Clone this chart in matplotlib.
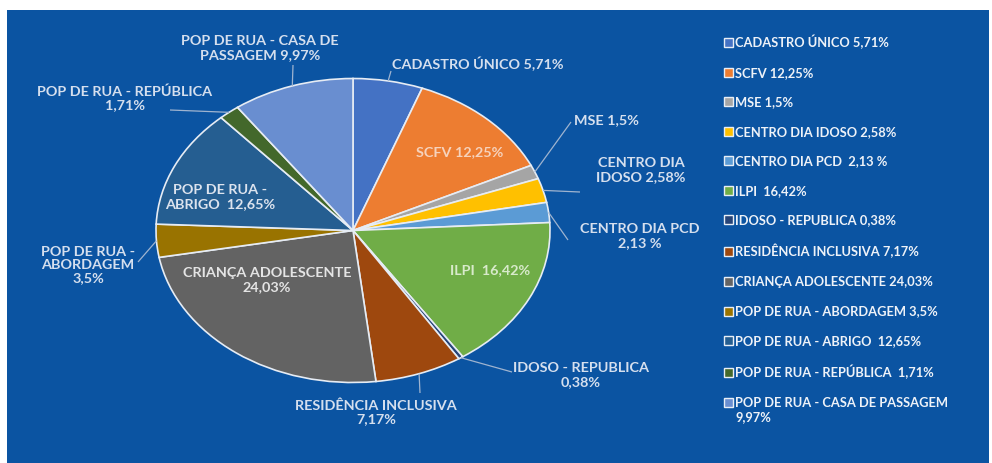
import matplotlib.pyplot as plt
import matplotlib.patches as patches
import numpy as np

# === Dati ===
categorie = ["CADASTRO ÚNICO", "SCFV", "MSE", "CENTRO DIA IDOSO", "CENTRO DIA PCD",
             "ILPI", "IDOSO - REPUBLICA", "RESIDÊNCIA INCLUSIVA", "CRIANÇA ADOLESCENTE",
             "POP DE RUA - ABORDAGEM", "POP DE RUA - ABRIGO", "POP DE RUA - REPÚBLICA",
             "POP DE RUA - CASA DE PASSAGEM"]
valori = [5.71, 12.25, 1.5, 2.58, 2.13, 16.42, 0.38, 7.17, 24.03, 3.5, 12.65, 1.71, 9.97]
etichette_torta = ["CADASTRO ÚNICO 5,71%", "SCFV 12,25%", "MSE 1,5%", "CENTRO DIA\nIDOSO 2,58%",
                   "CENTRO DIA PCD\n2,13 %", "ILPI  16,42%", "IDOSO - REPUBLICA\n0,38%",
                   "RESIDÊNCIA INCLUSIVA\n7,17%", "CRIANÇA ADOLESCENTE\n24,03%",
                   "POP DE RUA -\nABORDAGEM\n3,5%", "POP DE RUA -\nABRIGO  12,65%",
                   "POP DE RUA - REPÚBLICA\n1,71%", "POP DE RUA - CASA DE\nPASSAGEM 9,97%"]
etichette_legenda = ["CADASTRO ÚNICO 5,71%", "SCFV 12,25%", "MSE 1,5%", "CENTRO DIA IDOSO 2,58%",
                     "CENTRO DIA PCD  2,13 %", "ILPI  16,42%", "IDOSO - REPUBLICA 0,38%",
                     "RESIDÊNCIA INCLUSIVA 7,17%", "CRIANÇA ADOLESCENTE 24,03%",
                     "POP DE RUA - ABORDAGEM 3,5%", "POP DE RUA - ABRIGO  12,65%",
                     "POP DE RUA - REPÚBLICA  1,71%", "POP DE RUA - CASA DE PASSAGEM"]
legenda_coda = "9,97%"  # seconda riga dell'ultima voce
colori = ['#4472C4', '#ED7D31', '#A5A5A5', '#FFC000', '#5B9BD5', '#70AD47', '#264478',
          '#9E480E', '#636363', '#997300', '#255E91', '#43682B', '#698ED0']

# === Layout (pixel) ===
W, H = 992, 463
cx, cy, rx, ry = 353, 230.5, 197, 152
sfondo = '#0B54A2'
col_testo = '#D5DFEE'


def px2d(px, py):
    return (px - cx) / rx, (cy - py) / ry


# posizione testo (pixel), punto finale linea guida (pixel) o None, colore testo, allineamento
layout = [
    ((392, 64), (391, 71), col_testo, 'left'),
    ((460, 152), None, '#F6D2BC', 'center'),
    ((574, 120), (571, 122), col_testo, 'left'),
    ((641, 170), (580, 192), col_testo, 'center'),
    ((640, 236), (568, 240), col_testo, 'center'),
    ((490, 270), None, '#D8EACB', 'center'),
    ((581, 375), (512, 372), col_testo, 'center'),
    ((376, 412), (420, 393), col_testo, 'center'),
    ((267, 280), None, '#E4E4E4', 'center'),
    ((88, 265), (138, 262), col_testo, 'center'),
    ((220, 197), None, '#DCE3EE', 'center'),
    ((125, 98), (170, 110), col_testo, 'center'),
    ((260, 48), (293, 65), col_testo, 'center'),
]

fig = plt.figure(figsize=(W / 100, H / 100), dpi=100)
fig.patch.set_facecolor('white')
fig.patches.append(patches.Rectangle((7 / W, 0), (989 - 7) / W, (H - 10) / H,
                                     transform=fig.transFigure, facecolor=sfondo,
                                     edgecolor='none', zorder=-10))

ax = fig.add_axes([(cx - 1.25 * rx) / W, (H - cy - 1.25 * ry) / H, 2.5 * rx / W, 2.5 * ry / H])
wedges, _ = ax.pie(valori, colors=colori, startangle=90, counterclock=False,
                   wedgeprops=dict(edgecolor='#E6ECF4', linewidth=1.2))
ax.set_aspect('auto')
ax.set_xlim(-1.25, 1.25)
ax.set_ylim(-1.25, 1.25)
ax.patch.set_visible(False)

font_lbl = dict(family='Lato', weight='bold', size=10.4)
for w, lab, (tpos, lend, col, ha) in zip(wedges, etichette_torta, layout):
    tx, ty = px2d(*tpos)
    ax.text(tx, ty, lab, ha=ha, va='center', color=col, linespacing=1.12, **font_lbl)
    if lend is not None:
        ang = np.deg2rad((w.theta1 + w.theta2) / 2)
        ex, ey = np.cos(ang), np.sin(ang)
        lx, ly = px2d(*lend)
        ax.plot([ex, lx], [ey, ly], color='#9FB4D0', lw=0.9, solid_capstyle='butt')

font_leg = dict(family='Lato', weight='bold', size=9.3)
leg = fig.legend(wedges, etichette_legenda, loc='upper left',
                 bbox_to_anchor=(712 / W, 1 - 23 / H), frameon=False,
                 handlelength=0.7, handleheight=0.7, handletextpad=0.2,
                 labelspacing=1.36, labelcolor='#EEF2F8', prop=font_leg)
for h in leg.legend_handles:
    h.set_edgecolor('#E8EEF6')
    h.set_linewidth(1.0)

# seconda riga dell'ultima voce, sotto il testo della legenda
fig.canvas.draw()
bb = leg.get_texts()[-1].get_window_extent()
fig.text(bb.x0 / W, (bb.y0 - 2) / H, legenda_coda, ha='left', va='top',
         color='#EEF2F8', **font_leg)

fig.savefig('out.png', dpi=100, facecolor=fig.get_facecolor())
